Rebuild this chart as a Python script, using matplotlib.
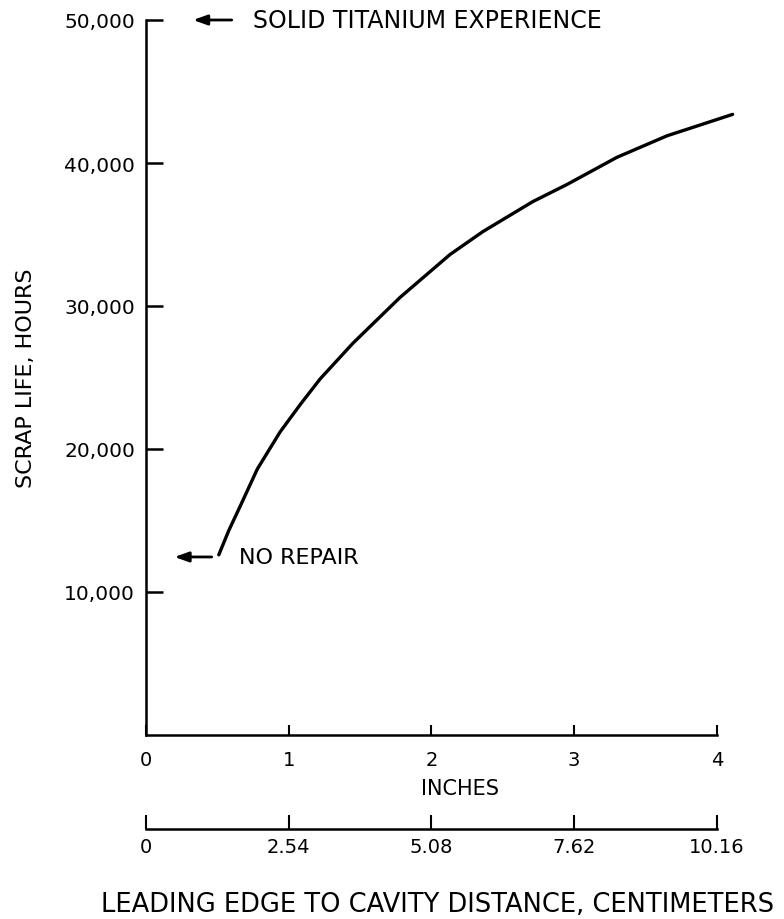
import matplotlib
matplotlib.use("Agg")
import matplotlib.pyplot as plt

# scrap life vs leading edge to cavity distance
dist_in = [0.51, 0.58, 0.66, 0.78, 0.94, 1.08, 1.22, 1.45, 1.78, 2.13, 2.36, 2.71, 2.95, 3.30, 3.65, 4.11]
life_hr = [12600, 14300, 16000, 18600, 21200, 23100, 24900, 27400, 30600, 33600, 35200, 37300, 38500, 40400, 41900, 43400]

inch_ticks = [0, 1, 2, 3, 4]
cm_ticks = [0, 2.54, 5.08, 7.62, 10.16]
cm_labels = ["0", "2.54", "5.08", "7.62", "10.16"]
y_ticks = [10000, 20000, 30000, 40000, 50000]
y_labels = ["10,000", "20,000", "30,000", "40,000", "50,000"]

no_repair = 12450
solid_ti = 50000

plt.rcParams['font.family'] = ['DejaVu Sans']

fig = plt.figure(figsize=(7.84, 9.2), dpi=100)

# main axes
ax = fig.add_axes([146 / 784, 184 / 920, 628 / 784, 715 / 920])
ax.plot(dist_in, life_hr, color='black', linewidth=2.4, clip_on=False, solid_capstyle='round')
ax.set_xlim(0, 4.4)
ax.set_ylim(0, 50000)

for s in ['top', 'right']:
    ax.spines[s].set_visible(False)
for s in ['left', 'bottom']:
    ax.spines[s].set_linewidth(1.8)
ax.spines['bottom'].set_bounds(0, 4)

ax.set_xticks(inch_ticks)
ax.set_xticklabels([str(t) for t in inch_ticks])
ax.set_yticks(y_ticks)
ax.set_yticklabels(y_labels)
ax.tick_params(axis='x', direction='in', length=7, width=1.5, pad=11, labelsize=14)
ax.tick_params(axis='y', direction='in', length=12, width=1.8, pad=8, labelsize=14.5)

ax.set_ylabel("SCRAP LIFE, HOURS", fontsize=16, labelpad=20)
ax.set_xlabel("INCHES", fontsize=15, labelpad=6)

# annotations
arrow = dict(arrowstyle='-|>,head_length=0.7,head_width=0.25', color='black', lw=2, mutation_scale=12)
ax.annotate('', xy=(0.18, no_repair), xytext=(0.48, no_repair), arrowprops=arrow)
ax.text(0.65, no_repair, "NO REPAIR", fontsize=16, va='center', ha='left')
ax.annotate('', xy=(0.31, solid_ti), xytext=(0.62, solid_ti), arrowprops=arrow, annotation_clip=False)
ax.text(0.75, solid_ti, "SOLID TITANIUM EXPERIENCE", fontsize=17, va='center', ha='left', clip_on=False)

# centimeter scale
cax = fig.add_axes([146 / 784, 90 / 920, 628 / 784, 0.001])
cax.set_xlim(0, 4.4 * 2.54)
for s in ['top', 'right', 'left']:
    cax.spines[s].set_visible(False)
cax.spines['bottom'].set_linewidth(1.8)
cax.spines['bottom'].set_bounds(0, 10.16)
cax.set_yticks([])
cax.set_xticks(cm_ticks)
cax.set_xticklabels(cm_labels)
cax.tick_params(axis='x', direction='in', length=10, width=1.5, pad=6, labelsize=14)
cax.patch.set_visible(False)

fig.text(437 / 784, 1 - 905 / 920, "LEADING EDGE TO CAVITY DISTANCE, CENTIMETERS",
         fontsize=18.5, ha='center', va='center')

fig.savefig("out.png", dpi=100)
